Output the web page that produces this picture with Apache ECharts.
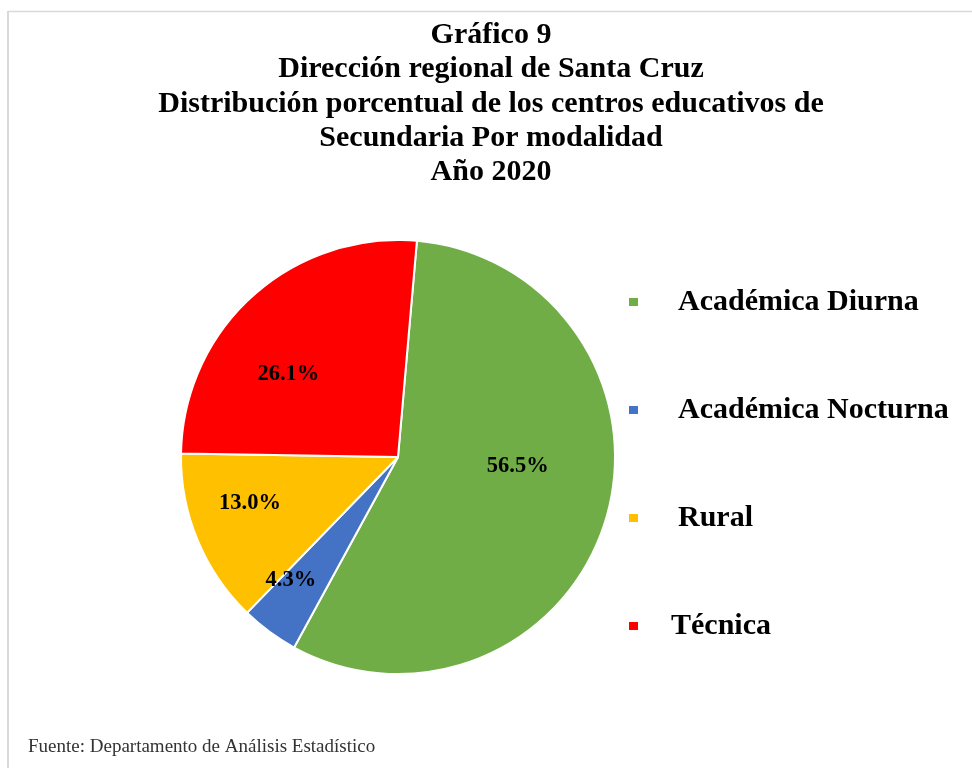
<!DOCTYPE html>
<html>
<head>
<meta charset="utf-8">
<script src="https://cdn.jsdelivr.net/npm/echarts@6/dist/echarts.min.js"></script>
<style>
html,body{margin:0;padding:0;background:#fff;}
#chart{width:972px;height:768px;}
</style>
</head>
<body>
<div id="chart"></div>
<script>
var categories = ['Académica Diurna', 'Académica Nocturna', 'Rural', 'Técnica'];
var percentages = [56.5, 4.3, 13.0, 26.1];
var sliceColors = ['#70AD47', '#4472C4', '#FFC000', '#FF0000'];
var titleLines = ['Gráfico 9', 'Dirección regional de Santa Cruz', 'Distribución porcentual de los centros educativos de', 'Secundaria Por modalidad', 'Año 2020'];
var sourceNote = 'Fuente: Departamento de Análisis Estadístico';

var labelShift = [[13, -23], [-41, 33], [-45, 4], [-35, 0]];
var legendTextPad = [34, 34, 34, 27];

var chart = echarts.init(document.getElementById('chart'));
var option = {
  backgroundColor: '#ffffff',
  animation: false,
  title: [{
    text: titleLines.join('\n'),
    left: 486,
    top: 13,
    textAlign: 'center',
    textStyle: {
      fontFamily: 'Liberation Serif',
      fontWeight: 'bold',
      fontSize: 30,
      lineHeight: 34.3,
      color: '#000'
    }
  }, {
    text: sourceNote,
    left: 23,
    top: 733,
    textStyle: {
      fontFamily: 'Liberation Serif',
      fontWeight: 'normal',
      fontSize: 19,
      color: '#333'
    }
  }],
  legend: {
    orient: 'vertical',
    left: 622,
    top: 282,
    icon: 'rect',
    itemWidth: 11,
    itemHeight: 10,
    itemGap: 78,
    data: categories.map(function (c, i) {
      return {name: c, textStyle: {padding: [0, 0, 0, legendTextPad[i]]}};
    }),
    textStyle: {
      fontFamily: 'Liberation Serif',
      fontWeight: 'bold',
      fontSize: 30,
      lineHeight: 30,
      color: '#000'
    }
  },
  graphic: [{
    type: 'line', shape: {x1: 8, y1: 11.5, x2: 972, y2: 11.5},
    style: {stroke: '#d9d9d9', lineWidth: 1.5}, silent: true
  }, {
    type: 'line', shape: {x1: 8, y1: 11, x2: 8, y2: 768},
    style: {stroke: '#d9d9d9', lineWidth: 2}, silent: true
  }],
  series: [{
    type: 'pie',
    center: [398, 457],
    radius: 217,
    startAngle: 85,
    clockwise: true,
    color: sliceColors,
    itemStyle: {borderColor: '#fff', borderWidth: 2},
    label: {
      show: true,
      position: 'inside',
      formatter: function (p) { return p.value.toFixed(1) + '%'; },
      fontFamily: 'Liberation Serif',
      fontWeight: 'bold',
      fontSize: 22.5,
      color: '#000'
    },
    labelLine: {show: false},
    emphasis: {disabled: true},
    data: categories.map(function (c, i) {
      return {name: c, value: percentages[i], label: {offset: labelShift[i]}};
    })
  }]
};
chart.setOption(option);
</script>
</body>
</html>
